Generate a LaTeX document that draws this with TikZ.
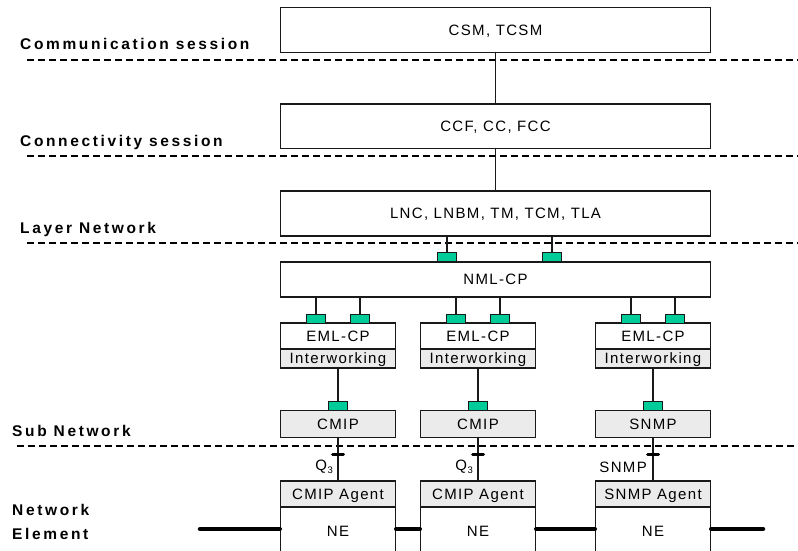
\documentclass[tikz,border=0pt]{standalone}
\usepackage{fontspec}
\setmainfont{Liberation Sans}
\newfontfamily\boxfont[LetterSpace=9]{Liberation Sans}
\newfontfamily\lblfont[LetterSpace=17]{Liberation Sans}
\definecolor{portc}{RGB}{0,204,153}
\definecolor{shade}{RGB}{235,235,235}
\definecolor{ink}{RGB}{25,25,25}
\newcommand{\subthree}{\kern0.5pt\raisebox{-3pt}{\fontsize{9.5pt}{9.5pt}\selectfont 3}}
\begin{document}
\begin{tikzpicture}[x=1pt,y=-1pt,
  box/.style={draw=ink, line width=1.5pt, inner sep=0pt,
    font={\boxfont\fontsize{15pt}{17pt}\selectfont}, text height=10.8pt, text depth=0pt},
  wide/.style={box, minimum width=430pt, minimum height=45pt},
  small/.style={box, minimum width=115pt},
  grey/.style={fill=shade},
  port/.style={draw=ink, line width=1.4pt, fill=portc, minimum width=19pt, minimum height=9.5pt, inner sep=0pt},
  conn/.style={draw=ink, line width=1.5pt},
  sep/.style={draw=black, line width=1.8pt, dash pattern=on 7pt off 4pt},
  lbl/.style={anchor=base west, inner sep=0pt, font={\lblfont\bfseries\fontsize{15.5pt}{17pt}\selectfont}},
  lk/.style={anchor=east, inner sep=0pt, font={\boxfont\fontsize{15pt}{17pt}\selectfont}},
  tick/.style={draw=black, line width=3pt, line cap=round},
  bus/.style={draw=black, line width=4.5pt, line cap=round}]
\useasboundingbox (0,0) rectangle (798,551);
\clip (0,0) rectangle (798,551);

% layer separators
\coordinate (s1) at (27,60);    \coordinate (s2) at (27,156);
\coordinate (s3) at (27,243);   \coordinate (s4) at (17,445.7);
\coordinate (e) at (798,0);
\foreach \s in {s1,s2,s3,s4} \draw[sep] (\s) -- (\s -| e);

% layer labels
\node[lbl] (lcs) at (20,50) {Communication session};
\node[lbl] (lcy) at (20,146) {Connectivity session};
\node[lbl] (lln) at (20,233) {Layer Network};
\node[lbl] (lsn) at (12,436) {Sub Network};
\node[lbl] (lne) at (12,515) {Network};
\node[lbl] (lel) at (12,539) {Element};

% upper boxes
\node[wide] (csm) at (495.5,29.8) {CSM, TCSM};
\node[wide, minimum height=44.5pt] (ccf) at (495.5,126.2) {CCF, CC, FCC};
\node[wide] (lnc) at (495.5,213.5) {LNC, LNBM, TM, TCM, TLA};
\node[wide, minimum height=35pt] (nml) at (495.5,279.5) {NML-CP};
\node[port] (np1) at (447,257.25) {};
\node[port] (np2) at (552,257.25) {};

\draw[conn] (csm) -- (ccf);
\draw[conn] (ccf) -- (lnc);
\draw[conn] (lnc.south -| np1) -- (np1);
\draw[conn] (lnc.south -| np2) -- (np2);

% three columns
\node[small, minimum height=26pt] (eml1) at (338,336) {EML-CP};
\node[small, minimum height=26pt] (eml2) at (478,336) {EML-CP};
\node[small, minimum height=26pt] (eml3) at (653,336) {EML-CP};
\node[small, grey, minimum height=19pt] (iw1) at (338,358.5) {Interworking};
\node[small, grey, minimum height=19pt] (iw2) at (478,358.5) {Interworking};
\node[small, grey, minimum height=19pt] (iw3) at (653,358.5) {Interworking};

\foreach \i/\cx in {1/338,2/478,3/653} {
  \node[port, minimum height=9pt] (ea\i) at (\cx-22,318.8) {};
  \node[port, minimum height=9pt] (eb\i) at (\cx+22,318.8) {};
  \draw[conn] (nml.south -| ea\i) -- (ea\i);
  \draw[conn] (nml.south -| eb\i) -- (eb\i);
}

\node[small, grey, minimum height=27pt] (cm1) at (338,424.2) {CMIP};
\node[small, grey, minimum height=27pt] (cm2) at (478,424.2) {CMIP};
\node[small, grey, minimum height=27pt] (cm3) at (653,424.2) {SNMP};
\node[small, grey, minimum height=26pt] (ag1) at (338,494) {CMIP Agent};
\node[small, grey, minimum height=26pt] (ag2) at (478,494) {CMIP Agent};
\node[small, grey, minimum height=26pt] (ag3) at (653,494) {SNMP Agent};
\node[small, minimum height=48pt] (ne1) at (338,531) {NE};
\node[small, minimum height=48pt] (ne2) at (478,531) {NE};
\node[small, minimum height=48pt] (ne3) at (653,531) {NE};

\foreach \i/\cx in {1/338,2/478,3/653} {
  \node[port, minimum height=9pt] (cp\i) at (\cx,406.2) {};
  \draw[conn] (iw\i) -- (cp\i);
  \draw[conn] (cm\i) -- (ag\i);
  \coordinate (tk\i) at (\cx,454.3);
  \draw[tick] ([xshift=-5.5pt]tk\i) -- ([xshift=5.5pt]tk\i);
}

\node[lk] (q1) at (333,467) {Q\subthree};
\node[lk] (q2) at (473,467) {Q\subthree};
\node[lk] (q3) at (647,467.3) {SNMP};

% network element links
\coordinate (w0) at (200,529);
\coordinate (w4) at (763,529);
\draw[bus] (w0) -- (w0 -| ne1.west);
\draw[bus] (ne1.east |- w0) -- (ne2.west |- w0);
\draw[bus] (ne2.east |- w0) -- (ne3.west |- w0);
\draw[bus] (ne3.east |- w0) -- (w4);
\end{tikzpicture}
\end{document}
